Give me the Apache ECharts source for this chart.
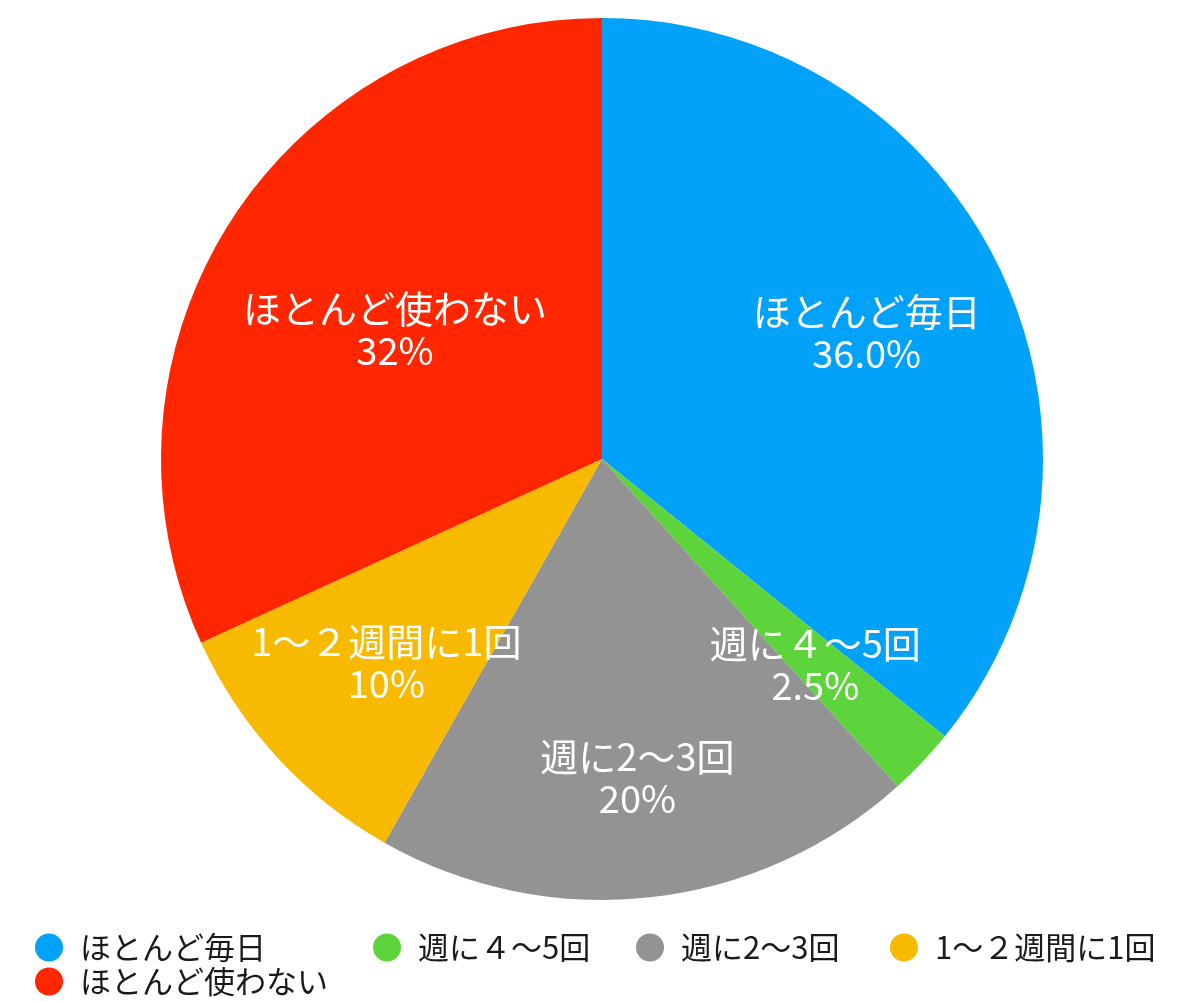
<!DOCTYPE html>
<html>
<head>
<meta charset="utf-8">
<script src="https://cdn.jsdelivr.net/npm/echarts@6/dist/echarts.min.js"></script>
<style>
html,body{margin:0;padding:0;background:#fff;}
#chart{width:1200px;height:1002px;}
</style>
</head>
<body>
<div id="chart"></div>
<script>
// Data
const categories = ['ほとんど毎日', '週に４〜5回', '週に2〜3回', '1〜２週間に1回', 'ほとんど使わない'];
const values = [36.0, 2.5, 20, 10, 32];
const percentLabels = ['36.0%', '2.5%', '20%', '10%', '32%'];

// Styles / layout (not data)
const colors = ['#03A2FA', '#5ED43C', '#939393', '#F7BA00', '#FF2600'];
const labelOffsets = [[63, -30], [51, 52], [11, 96], [-51, 52], [-19, -9]];
const FONT = '"Noto Sans CJK JP", "Noto Sans", sans-serif';

const pieData = categories.map((name, i) => ({
  name: name,
  value: values[i],
  itemStyle: { color: colors[i] },
  label: { offset: labelOffsets[i] }
}));

const legendBase = {
  orient: 'vertical',
  top: 927,
  icon: 'circle',
  itemWidth: 28,
  itemHeight: 28,
  itemGap: 3,
  textStyle: { fontFamily: FONT, fontSize: 31, color: '#1a1a1a', lineHeight: 28, padding: [0, 0, 0, 12] },
  selectedMode: true
};

const chart = echarts.init(document.getElementById('chart'));
chart.setOption({
  animation: false,
  backgroundColor: '#ffffff',
  legend: [
    Object.assign({}, legendBase, { left: 30, data: [categories[0], categories[4]] }),
    Object.assign({}, legendBase, { left: 368, data: [categories[1]] }),
    Object.assign({}, legendBase, { left: 631, data: [categories[2]] }),
    Object.assign({}, legendBase, { left: 885, data: [categories[3]] })
  ],
  series: [{
    type: 'pie',
    center: [602, 459],
    radius: [0, 441],
    startAngle: 90,
    clockwise: true,
    avoidLabelOverlap: false,
    itemStyle: { borderWidth: 0 },
    label: {
      show: true,
      position: 'inside',
      color: '#ffffff',
      fontFamily: FONT,
      fontSize: 38,
      lineHeight: 42,
      align: 'center',
      formatter: function (p) { return p.name + '\n' + percentLabels[p.dataIndex]; }
    },
    labelLine: { show: false },
    emphasis: { scale: false },
    data: pieData
  }]
});
</script>
</body>
</html>
